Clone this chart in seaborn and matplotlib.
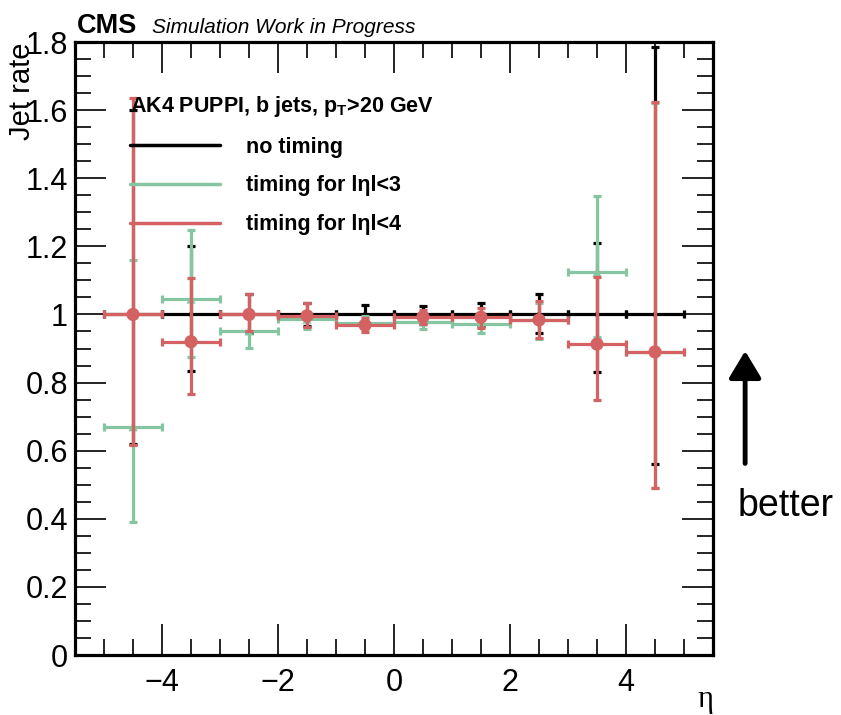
import numpy as np
import pandas as pd
import matplotlib
matplotlib.use("Agg")
import matplotlib.pyplot as plt
from matplotlib.lines import Line2D
from matplotlib.ticker import MultipleLocator, FuncFormatter
import seaborn as sns

# eta bin centres (bins of width 1)
eta = [-4.5, -3.5, -2.5, -1.5, -0.5, 0.5, 1.5, 2.5, 3.5, 4.5]
half_width = 0.5

# no timing
nt_val = [1.0, 1.0, 1.0, 1.0, 1.0, 1.0, 1.0, 1.0, 1.0, 1.0]
nt_up = [0.60, 0.20, 0.06, 0.035, 0.027, 0.025, 0.034, 0.06, 0.21, 0.785]
nt_dn = [0.38, 0.165, 0.055, 0.035, 0.027, 0.025, 0.034, 0.055, 0.17, 0.44]

# timing for |eta|<3
t3_val = [0.67, 1.045, 0.952, 0.986, 0.976, 0.978, 0.972, 0.984, 1.124, 0.89]
t3_up = [0.49, 0.203, 0.05, 0.02, 0.02, 0.02, 0.02, 0.05, 0.224, 0.73]
t3_dn = [0.28, 0.17, 0.05, 0.029, 0.02, 0.02, 0.027, 0.056, 0.19, 0.40]

# timing for |eta|<4
t4_val = [1.0, 0.92, 1.0, 0.996, 0.969, 0.993, 0.992, 0.984, 0.913, 0.89]
t4_up = [0.635, 0.187, 0.06, 0.037, 0.021, 0.02, 0.028, 0.056, 0.197, 0.734]
t4_dn = [0.383, 0.154, 0.049, 0.033, 0.021, 0.02, 0.032, 0.054, 0.164, 0.40]

labels = ["no timing", "timing for l\u03b7l<3", "timing for l\u03b7l<4"]
colors = ["black", "#86c5a1", "#d46262"]

sns.set_style("ticks")
plt.rcParams["font.family"] = ["Liberation Sans", "DejaVu Sans"]
plt.rcParams["mathtext.fontset"] = "custom"
plt.rcParams["mathtext.rm"] = "Liberation Sans"
plt.rcParams["mathtext.bf"] = "Liberation Sans:bold"
for key in ["text.color", "axes.labelcolor", "xtick.color", "ytick.color", "axes.edgecolor"]:
    plt.rcParams[key] = "black"

fig = plt.figure(figsize=(8.41, 7.15), dpi=100)
ax = fig.add_axes([0.0892, 0.0839, 0.7586, 0.8573])

series = [
    (nt_val, nt_up, nt_dn, "o", 3.5),
    (t3_val, t3_up, t3_dn, "^", 6.5),
    (t4_val, t4_up, t4_dn, "o", 9.5),
]
for i, (val, up, dn, mk, ms) in enumerate(series):
    df = pd.DataFrame({"eta": eta, "rate": val})
    ax.errorbar(df["eta"], df["rate"], xerr=half_width, yerr=[dn, up],
                fmt="none", ecolor=colors[i], elinewidth=2.3,
                capsize=2.6, capthick=2.3, zorder=2 + i)
    sns.scatterplot(data=df, x="eta", y="rate", marker=mk, s=ms ** 2,
                    color=colors[i], edgecolor="none", ax=ax,
                    zorder=3 + i, legend=False)

ax.set_xlim(-5.5, 5.5)
ax.set_ylim(0, 1.8)
ax.xaxis.set_major_locator(MultipleLocator(2))
ax.xaxis.set_minor_locator(MultipleLocator(0.5))
ax.yaxis.set_major_locator(MultipleLocator(0.2))
ax.yaxis.set_minor_locator(MultipleLocator(0.05))
ax.yaxis.set_major_formatter(FuncFormatter(lambda v, p: f"{v:g}"))
ax.xaxis.set_major_formatter(FuncFormatter(lambda v, p: f"{v:g}".replace("-", "\u2212")))
ax.tick_params(which="both", direction="in", top=True, right=True, width=1.2)
ax.tick_params(which="major", length=22, labelsize=22)
ax.tick_params(axis="x", which="major", pad=9)
ax.tick_params(axis="y", which="major", pad=5)
ax.tick_params(which="minor", length=11.5)
for sp in ax.spines.values():
    sp.set_linewidth(2.3)
ax.set_xlabel("")
ax.set_ylabel("")

fig.text(0.026, 0.94, "Jet rate", fontsize=21, rotation=90, ha="center", va="top")
fig.text(0.848, 0.021, "\u03b7", fontsize=22, family="Liberation Serif",
         ha="right", va="center")

handles = [Line2D([], [], color=c, lw=2.5) for c in colors]
leg = ax.legend(handles, labels, title="AK4 PUPPI, b jets, p$_{\\mathbf{T}}$>20 GeV",
                loc="upper left", bbox_to_anchor=(0.086, 0.915), frameon=False,
                prop={"size": 15.5, "weight": "bold"},
                title_fontproperties={"size": 15.5, "weight": "bold"},
                handlelength=4.2, handletextpad=1.2, labelspacing=0.82,
                borderpad=0, borderaxespad=0, alignment="left")

fig.text(0.0915, 0.954, "CMS", fontsize=19.5, fontweight="bold", va="baseline")
fig.text(0.181, 0.954, "Simulation Work in Progress", fontsize=15,
         style="italic", va="baseline")

ax.annotate("", xy=(0.886, 0.513), xytext=(0.886, 0.348),
            xycoords="figure fraction", textcoords="figure fraction",
            arrowprops=dict(arrowstyle="-|>,head_width=0.45,head_length=0.75",
                            lw=3.5, color="black", mutation_scale=22))
fig.text(0.877, 0.293, "better", fontsize=27, va="center", ha="left")

plt.savefig("out.png", dpi=100)
